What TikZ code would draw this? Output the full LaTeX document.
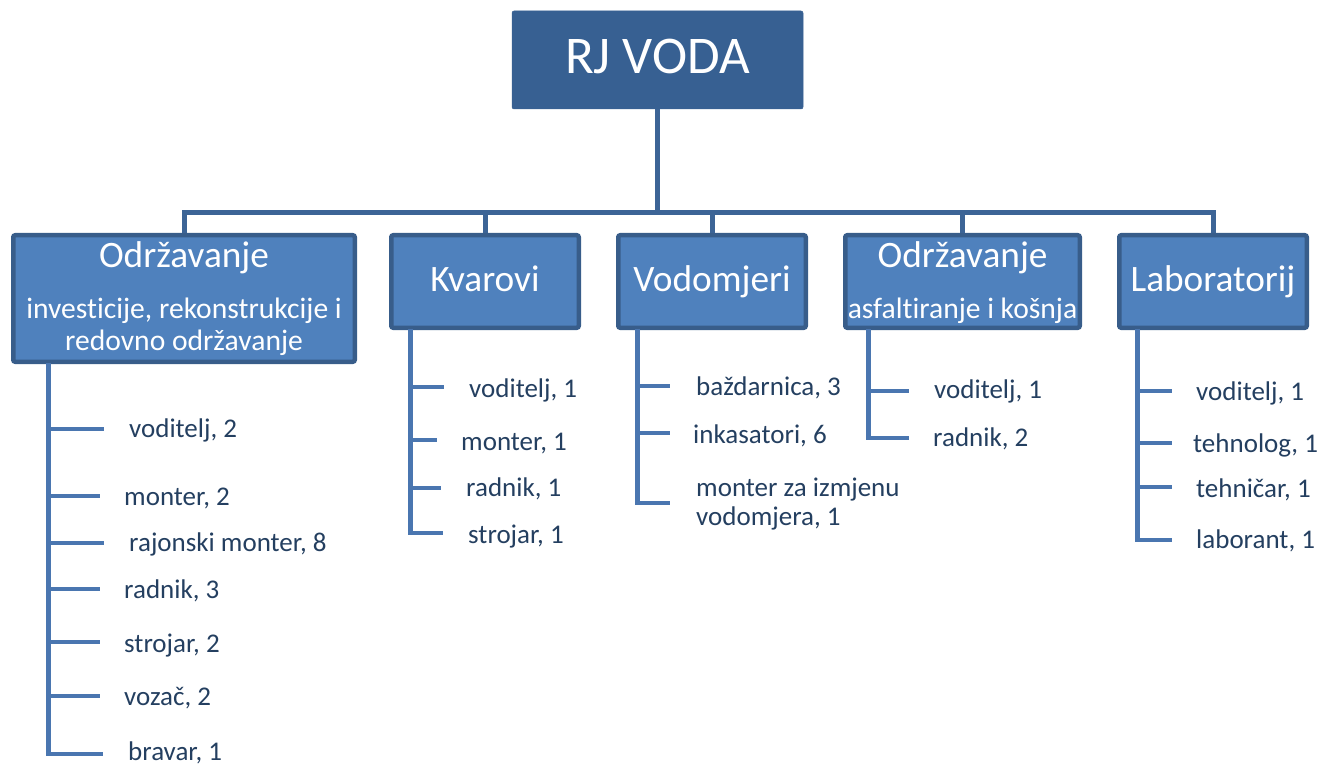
\documentclass[tikz,border=0pt]{standalone}
\usepackage{fontspec}
\setmainfont{Carlito}[Ligatures={NoCommon}]
\definecolor{topfill}{HTML}{376092}
\definecolor{boxfill}{HTML}{4F81BD}
\definecolor{boxline}{HTML}{385D8A}
\definecolor{busline}{HTML}{3C6496}
\definecolor{listline}{HTML}{4A76B0}
\definecolor{listtext}{HTML}{243F60}
\begin{document}
\begin{tikzpicture}[x=1pt,y=-1pt,
  topbox/.style={rectangle,fill=topfill,draw=topfill,line width=0.5pt,rounded corners=2pt,inner sep=0pt},
  unitbox/.style={rectangle,fill=boxfill,draw=boxline,line width=4.5pt,rounded corners=2pt,inner sep=0pt},
  boxtext/.style={text=white,inner sep=0pt,anchor=base},
  head/.style={boxtext,font=\fontsize{37.3}{42}\selectfont},
  sub/.style={boxtext,font=\fontsize{29.6}{34}\selectfont},
  item/.style={text=listtext,inner sep=0pt,anchor=base west,font=\fontsize{27}{31}\selectfont},
  bus/.style={draw=busline,line width=5pt},
  trunk/.style={draw=listline,line width=5pt},
  tick/.style={draw=listline,line width=4.5pt}]
\useasboundingbox (0,0) rectangle (1319,767);
% boxes
\node[topbox,minimum width=291pt,minimum height=98pt] (top) at (657.5,60) {};
\node[unitbox,minimum width=341.5pt,minimum height=126.5pt] (b1) at (184,298.5) {};
\node[unitbox,minimum width=187.5pt,minimum height=92.5pt] (b2) at (485,281.5) {};
\node[unitbox,minimum width=187.5pt,minimum height=92.5pt] (b3) at (712,281.5) {};
\node[unitbox,minimum width=234.5pt,minimum height=92.5pt] (b4) at (962.5,281.5) {};
\node[unitbox,minimum width=187.5pt,minimum height=92.5pt] (b5) at (1213,281.5) {};
% box texts
\node[boxtext,font=\fontsize{53}{60}\selectfont] (ttop) at (657.5,74) {RJ VODA};
\node[head] (t1a) at (184,268) {Održavanje};
\node[sub] (t1b) at (184,318) {investicije, rekonstrukcije i};
\node[sub] (t1c) at (184,350) {redovno održavanje};
\node[head] (t2) at (485,291) {Kvarovi};
\node[head] (t3) at (712,291) {Vodomjeri};
\node[head] (t4a) at (962.5,268) {Održavanje};
\node[sub] (t4b) at (962.5,318) {asfaltiranje i košnja};
\node[head] (t5) at (1213,291) {Laboratorij};
% bus
\coordinate (bus) at (0,213);
\draw[bus] (top.south) -- (top.south |- bus);
\draw[bus] (b1.north) -- (b1.north |- bus) -- (b5.north |- bus) -- (b5.north);
\draw[bus] (b2.north |- bus) -- (b2.north);
\draw[bus] (b3.north |- bus) -- (b3.north);
\draw[bus] (b4.north |- bus) -- (b4.north);
% list 1
\draw[trunk] (48,363) -- (48,756);
\foreach \y/\e in {429/104,496/100,543/104,589/100,642/100,696/100,754/103} \draw[tick] (46,\y) -- (\e,\y);
\node[item] (i11) at (129,437) {voditelj, 2};
\node[item] (i12) at (124,505) {monter, 2};
\node[item] (i13) at (129,551) {rajonski monter, 8};
\node[item] (i14) at (124,598) {radnik, 3};
\node[item] (i15) at (124,652) {strojar, 2};
\node[item] (i16) at (124,705) {vozač, 2};
\node[item] (i17) at (128,760) {bravar, 1};
% list 2
\draw[trunk] (410,329) -- (410,535);
\foreach \y/\e in {387/444,440/437,488/441,533/443} \draw[tick] (408,\y) -- (\e,\y);
\node[item] (i21) at (469,397) {voditelj, 1};
\node[item] (i22) at (461,450) {monter, 1};
\node[item] (i23) at (466,496) {radnik, 1};
\node[item] (i24) at (468,543) {strojar, 1};
% list 3
\draw[trunk] (637,329) -- (637,505);
\foreach \y in {386,433,503} \draw[tick] (635,\y) -- (670,\y);
\node[item] (i31) at (696,395) {baždarnica, 3};
\node[item] (i32) at (693,443) {inkasatori, 6};
\node[item] (i33) at (696,496) {monter za izmjenu};
\node[item] (i34) at (696,525) {vodomjera, 1};
% list 4
\draw[trunk] (868,329) -- (868,440);
\foreach \y in {391,438} \draw[tick] (866,\y) -- (909,\y);
\node[item] (i41) at (934,398) {voditelj, 1};
\node[item] (i42) at (933,446) {radnik, 2};
% list 5
\draw[trunk] (1137,329) -- (1137,542);
\foreach \y in {391,443,487,540} \draw[tick] (1135,\y) -- (1172,\y);
\node[item] (i51) at (1196,400) {voditelj, 1};
\node[item] (i52) at (1193,452) {tehnolog, 1};
\node[item] (i53) at (1196,497) {tehničar, 1};
\node[item] (i54) at (1196,548) {laborant, 1};
\end{tikzpicture}
\end{document}
